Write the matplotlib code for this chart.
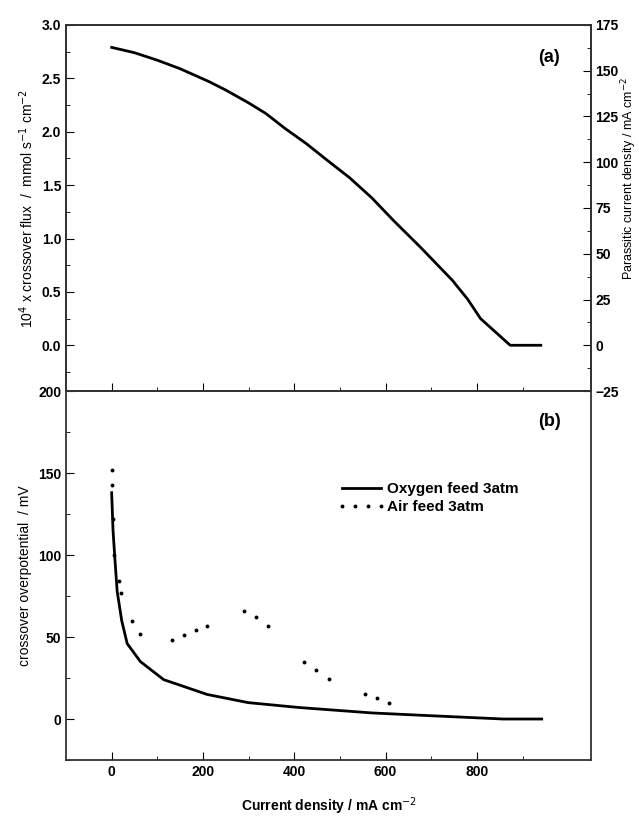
import numpy as np
import matplotlib.pyplot as plt
from matplotlib.ticker import MultipleLocator, FixedLocator

plt.rcParams['font.family'] = ['Liberation Sans', 'DejaVu Sans']

# (a) crossover flux vs current density
flux_x = [0, 50, 100, 150, 213, 250, 300, 338, 380, 426, 470, 521, 570, 617, 676, 746, 780, 808, 873, 940]
flux_y = [2.79, 2.74, 2.67, 2.59, 2.47, 2.39, 2.27, 2.17, 2.03, 1.89, 1.74, 1.57, 1.38, 1.17, 0.92, 0.61, 0.43, 0.25, 0.0, 0.0]

# (b) crossover overpotential
oxy_x = [0, 3, 7, 12, 22, 34, 63, 114, 209, 272, 299, 411, 571, 700, 858, 942]
oxy_y = [138, 115, 98, 78, 60, 46, 35, 24, 15, 11.5, 10, 7, 3.7, 2, 0, 0]
air_x = [0, 1, 3, 6, 15, 20, 44, 62, 132, 158, 184, 209, 290, 316, 343, 422, 448, 475, 555, 581, 608]
air_y = [152, 143, 122, 100, 84, 77, 60, 52, 48, 51, 54, 57, 66, 62, 57, 35, 30, 24.5, 15, 13, 10]

x_major = [0, 200, 400, 600, 800]
x_minor = [100, 300, 500, 700, 900]

fig = plt.figure(figsize=(6.39, 8.16), dpi=100)
ax1 = fig.add_axes([0.1033, 0.5208, 0.8216, 0.4486])
ax2 = fig.add_axes([0.1033, 0.0686, 0.8216, 0.4522])

ax1.plot(flux_x, flux_y, color='black', lw=2)
ax1.set_xlim(-100, 1050)
ax1.set_ylim(-3 / 175 * 25, 3.0)
ax1.yaxis.set_major_locator(MultipleLocator(0.5))
ax1.yaxis.set_minor_locator(MultipleLocator(0.25))
ax1.xaxis.set_major_locator(FixedLocator(x_major))
ax1.xaxis.set_minor_locator(FixedLocator(x_minor))
ax1.tick_params(axis='both', which='both', direction='in', top=False, right=False)
ax1.tick_params(which='major', length=6)
ax1.tick_params(which='minor', length=3)
ax1.tick_params(axis='x', labelbottom=False)
for lab in ax1.get_yticklabels():
    lab.set_fontweight('bold')
    lab.set_fontsize(10)
ax1.set_ylabel('10$^4$ x crossover flux  /  mmol s$^{-1}$ cm$^{-2}$', fontsize=10)
ax1.text(0.9, 0.9, '(a)', transform=ax1.transAxes, fontsize=13, fontweight='bold')

ax1r = ax1.twinx()
ax1r.set_ylim(-25, 175)
ax1r.yaxis.set_major_locator(MultipleLocator(25))
ax1r.yaxis.set_minor_locator(MultipleLocator(12.5))
ax1r.tick_params(axis='y', which='both', direction='in', pad=3)
ax1r.tick_params(which='major', length=6)
ax1r.tick_params(which='minor', length=3)
for lab in ax1r.get_yticklabels():
    lab.set_fontweight('bold')
    lab.set_fontsize(10)
ax1r.set_ylabel('Parassitic current density / mA cm$^{-2}$', fontsize=9)
ax1r.yaxis.set_label_coords(1.054, 0.58)

ax2.plot(oxy_x, oxy_y, color='black', lw=2, label='Oxygen feed 3atm')
ax2.plot(air_x, air_y, color='black', ls='none', marker='o', ms=1.8,
         label='Air feed 3atm')
ax2.set_xlim(-100, 1050)
ax2.set_ylim(-25, 200)
ax2.xaxis.set_major_locator(FixedLocator(x_major))
ax2.xaxis.set_minor_locator(FixedLocator(x_minor))
ax2.yaxis.set_major_locator(MultipleLocator(50))
ax2.yaxis.set_minor_locator(MultipleLocator(25))
ax2.tick_params(axis='both', which='both', direction='in', top=False, right=False)
ax2.tick_params(which='major', length=6)
ax2.tick_params(which='minor', length=3)
for lab in ax2.get_xticklabels() + ax2.get_yticklabels():
    lab.set_fontweight('bold')
    lab.set_fontsize(10)
ax2.set_xlabel('Current density / mA cm$^{-2}$', fontsize=10, fontweight='bold', labelpad=12)
ax2.set_ylabel('crossover overpotential  / mV', fontsize=10)
ax2.text(0.9, 0.905, '(b)', transform=ax2.transAxes, fontsize=13, fontweight='bold')
leg = ax2.legend(loc='upper left', bbox_to_anchor=(0.49, 0.79), frameon=False,
                 fontsize=11, handlelength=3.2, handletextpad=0.05, labelspacing=0.25,
                 numpoints=4)
for t in leg.get_texts():
    t.set_fontweight('bold')

for ax in (ax1, ax1r, ax2):
    for sp in ax.spines.values():
        sp.set_linewidth(1.3)
        sp.set_color('#333333')

fig.savefig('out.png', dpi=100)
